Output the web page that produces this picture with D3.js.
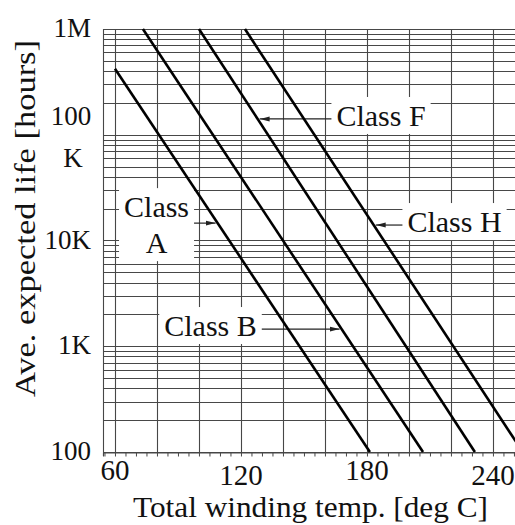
<!DOCTYPE html>
<html>
<head>
<meta charset="utf-8">
<script src="https://cdn.jsdelivr.net/npm/d3@7"></script>
<style>
  body { margin: 0; background: #fff; }
  svg { display: block; }
  text { font-family: "Liberation Serif", "Times New Roman", serif; fill: #111; }
</style>
</head>
<body>
<svg id="chart" width="515" height="525"></svg>
<script>
// Insulation classes: life line end points (temperature in deg C, life in hours)
const classNames = ["Class A", "Class B", "Class F", "Class H"];
const classTemps = [[60, 181.4], [73.3, 206.7], [100, 231.4], [121.9, 254.2]];
const classHours = [[4.2e5, 100], [1e6, 100], [1e6, 100], [1e6, 100]];

// Axis ticks
const tempLabels = [60, 120, 180, 240];
const tempGrid = [60, 80, 100, 120, 140, 160, 180, 200, 220, 240];
const lifeTickValues = [1e6, 1e5, 1e4, 1e3, 100];
const lifeTickLabels = ["1M", "100\nK", "10K", "1K", "100"];

const xTitle = "Total winding temp. [deg C]";
const yTitle = "Ave. expected life [hours]";

// Where each class label sits: life level of its pointer and temperature of the label centre
const labelHours = [1.46e4, 1455, 1.41e5, 1.40e4];
const labelTemps = [79.8, 105.5, 186.7, 221.7];

const svg = d3.select("#chart");
const W = 515;
const plot = { left: 103, top: 29, bottom: 452, right: W };

const x = d3.scaleLinear().domain([54.3, 250.5]).range([plot.left, W]);
const y = d3.scaleLog().domain([100, 1e6]).range([plot.bottom, plot.top]);

const gridColor = "#474747";

// ---- log grid: 1..9 in every decade
const hLines = [];
for (let e = 2; e < 6; e++) for (let k = 1; k <= 9; k++) hLines.push(k * Math.pow(10, e));
hLines.push(1e6);

const grid = svg.append("g");
grid.selectAll("line.h").data(hLines).join("line")
  .attr("class", "h")
  .attr("x1", plot.left).attr("x2", W)
  .attr("y1", d => Math.round(y(d)) + 0.5).attr("y2", d => Math.round(y(d)) + 0.5)
  .attr("stroke", gridColor).attr("stroke-width", 1.1);

grid.selectAll("line.v").data(tempGrid).join("line")
  .attr("class", "v")
  .attr("x1", d => Math.round(x(d)) + 0.5).attr("x2", d => Math.round(x(d)) + 0.5)
  .attr("y1", plot.top).attr("y2", plot.bottom)
  .attr("stroke", gridColor).attr("stroke-width", 1.1);

// left frame line
grid.append("line")
  .attr("x1", plot.left + 0.5).attr("x2", plot.left + 0.5)
  .attr("y1", plot.top).attr("y2", plot.bottom + 4)
  .attr("stroke", gridColor).attr("stroke-width", 1.1);

// ---- bottom axis with 5-degree ticks
const xAxis = d3.axisBottom(x)
  .tickValues(d3.range(55, 251, 5))
  .tickSize(4)
  .tickFormat("");
const gx = svg.append("g").attr("transform", `translate(0,${plot.bottom + 0.5})`).call(xAxis);
gx.select(".domain").attr("stroke", gridColor).attr("stroke-width", 1.1);
gx.selectAll(".tick line").attr("stroke", gridColor).attr("stroke-width", 1);

svg.append("g").selectAll("text").data(tempLabels).join("text")
  .attr("x", d => x(d))
  .attr("y", (d, i) => plot.bottom + (i % 2 === 0 ? 28 : 33))
  .attr("text-anchor", "middle")
  .attr("font-size", 29)
  .text(d => d);

// ---- left tick labels
const yl = svg.append("g");
lifeTickValues.forEach((v, i) => {
  const parts = lifeTickLabels[i].split("\n");
  const yy = y(v);
  if (parts.length === 1) {
    yl.append("text")
      .attr("x", 91).attr("y", yy + 8)
      .attr("text-anchor", "end")
      .attr("font-size", 27)
      .text(parts[0]);
  } else {
    const t = yl.append("text").attr("text-anchor", "middle").attr("font-size", 27);
    t.append("tspan").attr("x", 71).attr("y", yy - 10).text(parts[0]);
    t.append("tspan").attr("x", 73).attr("y", yy + 32).text(parts[1]);
  }
});

// ---- axis titles
svg.append("text")
  .attr("x", 310.5).attr("y", 517)
  .attr("text-anchor", "middle")
  .attr("font-size", 29)
  .attr("textLength", 355).attr("lengthAdjust", "spacingAndGlyphs")
  .text(xTitle);

svg.append("text")
  .attr("transform", "translate(35,218.5) rotate(-90)")
  .attr("text-anchor", "middle")
  .attr("font-size", 30)
  .attr("textLength", 357).attr("lengthAdjust", "spacingAndGlyphs")
  .text(yTitle);

// ---- class life lines
const classes = classNames.map((name, i) => ({
  name,
  pts: classTemps[i].map((t, j) => ({ t, h: classHours[i][j] }))
}));

// temperature on a class line at a given life
function tempAt(c, h) {
  const [a, b] = c.pts;
  const f = (Math.log10(a.h) - Math.log10(h)) / (Math.log10(a.h) - Math.log10(b.h));
  return a.t + f * (b.t - a.t);
}

const line = d3.line().x(d => x(d.t)).y(d => y(d.h));

// ---- labels with white backing and pointer arrows
const defs = svg.append("defs");
defs.append("marker")
  .attr("id", "arrow")
  .attr("viewBox", "0 0 10 6")
  .attr("refX", 10).attr("refY", 3)
  .attr("markerWidth", 10).attr("markerHeight", 6)
  .attr("markerUnits", "userSpaceOnUse")
  .attr("orient", "auto")
  .append("path").attr("d", "M0,0.5 L10,3 L0,5.5 Z").attr("fill", "#222");

const labels = svg.append("g");
classes.forEach((c, i) => {
  const ay = y(labelHours[i]);
  const cx = x(labelTemps[i]);
  const g = labels.append("g");
  const bg = g.append("rect").attr("fill", "#fff");
  const t = g.append("text").attr("text-anchor", "middle").attr("font-size", 30);
  const words = c.name.split(" ");
  if (c.name === "Class A") {
    t.append("tspan").attr("x", cx).attr("y", ay - 6).text(words[0]);
    t.append("tspan").attr("x", cx).attr("y", ay + 30).text(words[1]);
  } else {
    t.attr("x", cx).attr("y", ay + 7).text(c.name);
  }
  const bb = t.node().getBBox();
  const box = { x0: bb.x - 5, x1: bb.x + bb.width + 5, y0: bb.y - 2, y1: bb.y + bb.height + 2 };
  bg.attr("x", box.x0).attr("y", box.y0)
    .attr("width", box.x1 - box.x0).attr("height", box.y1 - box.y0);

  const tipX = x(tempAt(c, labelHours[i]));
  const startX = tipX < cx ? box.x0 : box.x1;
  g.append("line")
    .attr("x1", startX).attr("x2", tipX + (tipX < cx ? 2 : -2))
    .attr("y1", ay).attr("y2", ay)
    .attr("stroke", "#222").attr("stroke-width", 1.2)
    .attr("marker-end", "url(#arrow)");
});

svg.append("g").selectAll("path").data(classes).join("path")
  .attr("d", d => line(d.pts))
  .attr("fill", "none")
  .attr("stroke", "#000")
  .attr("stroke-width", 2.6);
</script>
</body>
</html>
